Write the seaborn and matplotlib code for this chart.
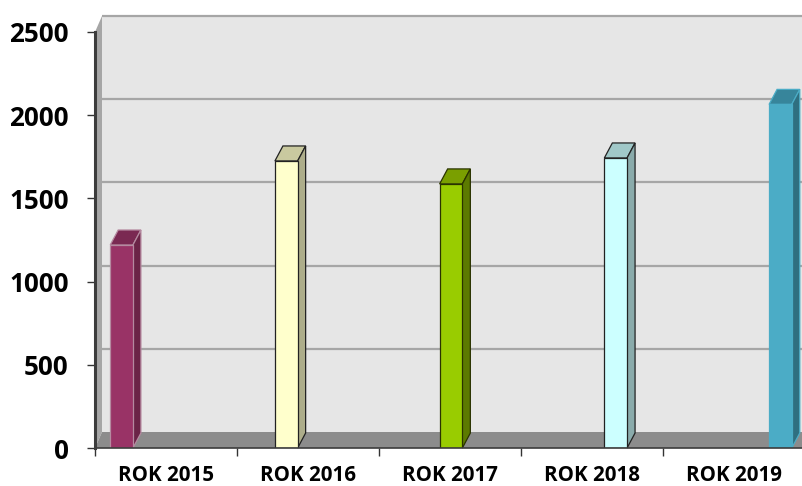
import matplotlib
matplotlib.use('Agg')
import matplotlib.pyplot as plt
import pandas as pd
import seaborn as sns
from matplotlib.patches import Polygon
from matplotlib.transforms import Affine2D, IdentityTransform

categories = ['ROK 2015', 'ROK 2016', 'ROK 2017', 'ROK 2018', 'ROK 2019']
values = [1220, 1725, 1587, 1743, 2065]
y_ticks = [0, 500, 1000, 1500, 2000, 2500]

front_colors = ['#993366', '#ffffcc', '#99cc00', '#ccffff', '#4bacc6']
top_colors = ['#7a2952', '#c9c99f', '#7a9f00', '#a0c8c8', '#37859b']
side_colors = ['#6b2447', '#adad8a', '#5c7a00', '#8aabab', '#2f6f80']
edge_colors = ['#b58aa0', '#222222', '#2a3300', '#222222', '#4bacc6']

# depth of the fake 3d, in pixels
DX = 7
DY = 16
BAR_DX = 8
BAR_DY = 15

sns.set_style('white')
df = pd.DataFrame({'year': categories, 'value': values})

fig = plt.figure(figsize=(8.02, 4.86), dpi=100)
ax = fig.add_axes([95 / 802, 38 / 486, 707 / 802, 416 / 486])
ax.set_facecolor('none')

sns.barplot(data=df, x='year', y='value', hue='year', hue_order=categories,
            palette=front_colors, dodge=True, width=0.8, saturation=1,
            legend=False, zorder=5, ax=ax)

ax.set_xlim(-0.5, 4.479)
ax.set_ylim(0, 2500)
ax.set_xlabel('')
ax.set_ylabel('')
ax.set_yticks(y_ticks)

ident = IdentityTransform()
x0, y0 = ax.transAxes.transform((0, 0))
x1, y1 = ax.transAxes.transform((1, 1))

# back wall, side wall and floor
ax.add_patch(Polygon([(x0 + DX, y0 + DY), (x1 + DX, y0 + DY), (x1 + DX, y1 + DY), (x0 + DX, y1 + DY)],
                     transform=ident, fc='#e6e6e6', ec='none', zorder=0, clip_on=False))
ax.add_patch(Polygon([(x0, y0), (x0 + DX, y0 + DY), (x0 + DX, y1 + DY), (x0, y1)],
                     transform=ident, fc='#a6a6a6', ec='none', zorder=1, clip_on=False))
ax.add_patch(Polygon([(x0, y0), (x1, y0), (x1 + DX, y0 + DY), (x0 + DX, y0 + DY)],
                     transform=ident, fc='#8c8c8c', ec='none', zorder=2, clip_on=False))

# gridlines sit on the back wall
grid_trans = ax.get_yaxis_transform() + Affine2D().translate(DX, DY)
for t in y_ticks[1:]:
    ax.plot([0, 1.02], [t, t], transform=grid_trans, color='#a6a6a6', lw=1.6,
            zorder=1.5, clip_on=False, solid_capstyle='butt')

# top and side of each bar, one pixel to the right like the reference
px_per_cat = (x1 - x0) / (ax.get_xlim()[1] - ax.get_xlim()[0])
for bar, top, side, edge in zip(ax.patches[:len(values)], top_colors, side_colors, edge_colors):
    bar.set_x(bar.get_x() + 1 / px_per_cat)
    bar.set_edgecolor(edge)
    bar.set_linewidth(0.9)
    (bx0, by0), (bx1, by1) = ax.transData.transform(bar.get_bbox().get_points())
    ax.add_patch(Polygon([(bx0, by1), (bx1, by1), (bx1 + BAR_DX, by1 + BAR_DY), (bx0 + BAR_DX, by1 + BAR_DY)],
                         transform=ident, fc=top, ec=edge, lw=0.9, zorder=4, clip_on=False))
    ax.add_patch(Polygon([(bx1, by0), (bx1 + BAR_DX, by0 + BAR_DY), (bx1 + BAR_DX, by1 + BAR_DY), (bx1, by1)],
                         transform=ident, fc=side, ec=edge, lw=0.9, zorder=4, clip_on=False))

for name in ['top', 'right']:
    ax.spines[name].set_visible(False)
ax.spines['left'].set_color('#3c3c3c')
ax.spines['left'].set_linewidth(2.2)
ax.spines['bottom'].set_color('#3c3c3c')
ax.spines['bottom'].set_linewidth(1.2)
ax.spines['left'].set_zorder(6)
ax.spines['bottom'].set_zorder(6)

ax.set_xticks([i - 0.5 for i in range(5)], minor=True)
ax.tick_params(axis='x', which='minor', bottom=True, length=6, width=1, color='#333333')
ax.tick_params(axis='x', which='major', bottom=False, pad=8.5, labelsize=14.8, labelcolor='black')
ax.tick_params(axis='y', left=True, length=6, width=1, color='#333333', pad=13,
               labelsize=18.7, labelcolor='black')
for label in ax.get_xticklabels() + ax.get_yticklabels():
    label.set_fontfamily('Open Sans')
    label.set_fontweight('bold')

fig.savefig('out.png', dpi=100)
